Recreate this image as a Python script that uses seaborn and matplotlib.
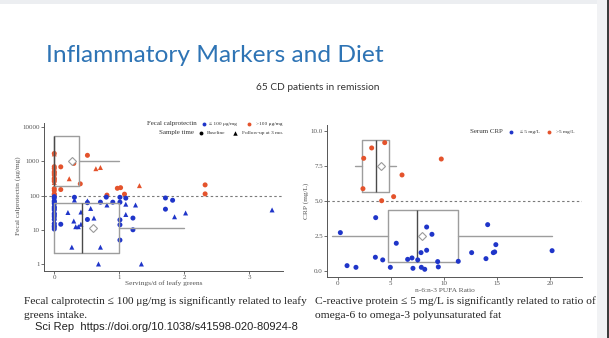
import numpy as np
import pandas as pd
import seaborn as sns
import matplotlib
matplotlib.use("Agg")
import matplotlib.pyplot as plt
import matplotlib.lines as mlines
import matplotlib.patches as mpatches
from matplotlib.font_manager import FontProperties

# ---------------- data ----------------
# Left: fecal calprotectin vs leafy greens servings
fc_servings = [0, 0, 0, 0, 0, 0, 0, 0, 0, 0, 0, 0, 0, 0, 0, 0, 0,
               0.10, 0.30, 0.51, 0.64, 0.71, 0.23, 0.40, 0.10, 0.81, 0.97, 1.02, 1.08, 1.31, 2.32, 2.32,
               0, 0, 0, 0, 0, 0, 0, 0, 0, 0, 0, 0, 0, 0, 0, 0, 0, 0, 0, 0,
               0.31, 0.31, 0.21, 0.10, 0.30, 0.33, 0.37, 0.41, 0.41, 0.27, 0.51, 0.51, 0.51, 0.56, 0.61,
               0.71, 0.68, 0.71, 0.81, 0.80, 0.90,
               1.01, 1.01, 1.01, 1.01, 1.01, 1.10, 1.10, 1.25, 1.10, 1.21, 1.21, 1.34, 1.71, 1.82, 1.71,
               1.85, 2.02, 3.35]
fc_calpro = [1700, 1650, 700, 620, 560, 500, 450, 400, 360, 320, 290, 260, 240, 160, 140, 112, 106,
             690, 870, 1500, 610, 660, 310, 220, 150, 103, 163, 170, 110, 195, 205, 112,
             93, 85, 78, 70, 64, 58, 52, 47, 42, 38, 34, 30, 27, 24, 20, 18, 15, 13, 12, 10.5,
             89, 74, 32, 14.5, 18, 12.3, 12.3, 14.5, 33, 3.1, 62, 70, 20, 42, 22, 3.1, 1.0, 64, 53, 90, 64,
             89, 64, 19.5, 14, 5, 84, 56, 53, 28, 22, 10, 1.0, 85, 73, 40, 24, 31, 38]
B, F = "Baseline", "Follow-up at 3 mo."
fc_time = [B, F, B, B, F, B, B, B, F, B, B, B, F, B, B, B, B,
           B, B, B, F, F, F, B, B, B, B, B, B, F, B, B,
           B, B, F, B, B, B, F, B, B, B, F, B, B, B, B, F, B, B, B, B,
           B, F, F, B, F, F, F, F, F, F, B, F, B, F, F, F, F, B, F, B, B,
           B, B, B, B, B, B, F, F, F, B, B, F, B, B, B, F, F, F]
fc_threshold = 100
fc_ticks = [1, 10, 100, 1000, 10000]
fc_tick_labels = ["1", "10", "100", "1000", "10000"]
# box statistics (servings) for each calprotectin group, as drawn
fc_box_center = [1000, 11]          # >100 group, <=100 group
fc_box_q1 = [0.0, 0.0]
fc_box_med = [0.0, 0.43]
fc_box_q3 = [0.38, 0.99]
fc_box_whislo = [0.0, 0.0]
fc_box_whishi = [0.99, 2.0]
fc_box_mean = [0.28, 0.59]

# Right: CRP vs n-6:n-3 PUFA ratio
crp_ratio = [4.43, 3.20, 2.45, 2.38, 4.14, 5.27, 6.06, 9.76,
             0.25, 3.58, 5.52, 8.38, 8.88, 8.38, 7.85, 3.55, 4.24, 0.88, 1.72, 4.96, 6.59, 7.0,
             7.54, 7.09, 7.88, 8.2, 9.42, 9.48, 11.36, 12.62, 13.97, 14.13, 14.66, 14.79, 14.9, 20.2]
crp_value = [9.17, 8.79, 8.05, 5.88, 5.02, 5.31, 6.86, 8.0,
             2.74, 3.81, 1.98, 3.14, 2.62, 1.48, 1.31, 0.98, 0.79, 0.38, 0.26, 0.26, 0.83, 0.93,
             0.79, 0.19, 0.26, 0.12, 0.67, 0.29, 0.69, 1.31, 0.88, 3.31, 1.31, 1.36, 1.88, 1.45]
crp_threshold = 5.0
crp_box_center = [7.5, 2.5]          # >5 group, <=5 group
crp_box_q1 = [2.26, 4.77]
crp_box_med = [3.61, 7.5]
crp_box_q3 = [4.86, 11.36]
crp_box_whislo = [1.66, -0.5]
crp_box_whishi = [5.46, 20.16]
crp_box_mean = [4.08, 7.97]
crp_ticks = [0.0, 2.5, 5.0, 7.5, 10.0]
crp_xticks = [0, 5, 10, 15, 20]

BLUE = "#1f35c9"
RED = "#e4532c"
GRAY = "#555555"
BOXC = "#9d9d9d"

# ---------------- figure ----------------
W, H = 609, 338
sns.set_theme(style="white")
plt.rcParams["font.family"] = ["Liberation Serif", "DejaVu Serif"]
fig = plt.figure(figsize=(W / 100, H / 100), dpi=100)
fig.patch.set_facecolor("white")
renderer = fig.canvas.get_renderer()


def fx(px):
    return px / W


def fy(py):
    return 1 - py / H


def fit(text, width_px, family, weight="normal"):
    fp = FontProperties(family=family, size=10, weight=weight)
    w, h, d = renderer.get_text_width_height_descent(text, fp, ismath=False)
    return 10 * width_px / w


# slide frame
fig.add_artist(mpatches.Rectangle((0, fy(4)), 1, 4 / H, transform=fig.transFigure,
                                  color="#eceef1", zorder=0, lw=0))
fig.add_artist(mpatches.Rectangle((fx(597), 0), 10 / W, 1, transform=fig.transFigure,
                                  color="#f1f2f4", zorder=0, lw=0))
fig.add_artist(mpatches.Rectangle((fx(606.5), 0), 2.5 / W, 1, transform=fig.transFigure,
                                  color="#3c3c3c", zorder=0, lw=0))

# title / subtitle
SANS = ["Lato", "DejaVu Sans"]
fig.text(fx(45.5), fy(62), "Inflammatory Markers and Diet", family=SANS, color="#2e74b5",
         fontsize=fit("Inflammatory Markers and Diet", 337, SANS), ha="left", va="baseline")
fig.text(fx(256), fy(90.5), "65 CD patients in remission", family=SANS, color="#333333",
         fontsize=fit("65 CD patients in remission", 123, SANS), ha="left", va="baseline")

SERIF = ["Liberation Serif", "DejaVu Serif"]


def style_axes(ax):
    ax.set_facecolor("none")
    for s in ["top", "right"]:
        ax.spines[s].set_visible(False)
    for s in ["left", "bottom"]:
        ax.spines[s].set_color(GRAY)
        ax.spines[s].set_linewidth(0.7)
    ax.tick_params(axis="both", which="major", length=2, width=0.6, color=GRAY,
                   labelsize=5, labelcolor=GRAY, pad=1.2, left=True, bottom=True)
    ax.tick_params(axis="both", which="minor", length=0)
    ax.grid(False)
    ax.set_xlabel("")
    ax.set_ylabel("")


def draw_boxes(bax, positions, widths, q1, med, q3, lo, hi, mean):
    stats = [dict(q1=a, med=b, q3=c, whislo=d, whishi=e, mean=f, fliers=[])
             for a, b, c, d, e, f in zip(q1, med, q3, lo, hi, mean)]
    kw = dict(positions=positions, widths=widths, showmeans=True, showcaps=False,
              showfliers=False, patch_artist=False,
              boxprops=dict(color=BOXC, lw=1.0),
              whiskerprops=dict(color=BOXC, lw=1.0),
              medianprops=dict(color="#4a4a4a", lw=1.0),
              meanprops=dict(marker="D", markerfacecolor="white", markeredgecolor="#9a9a9a",
                             markersize=4.2, markeredgewidth=0.8))
    try:
        bax.bxp(stats, orientation="horizontal", **kw)
    except TypeError:
        bax.bxp(stats, vert=False, **kw)


PT = 13  # marker area

# ---------- left panel ----------
ax1 = fig.add_axes([fx(44), fy(271), (283 - 44) / W, (271 - 123) / H])
df1 = pd.DataFrame({"servings": fc_servings, "calpro": fc_calpro, "time": fc_time})
df1["group"] = np.where(df1["calpro"] <= fc_threshold, "low", "high")
ax1.set_yscale("log")
sns.scatterplot(data=df1, x="servings", y="calpro", hue="group", hue_order=["low", "high"],
                palette=[BLUE, RED], style="time", markers={B: "o", F: "^"},
                style_order=[B, F], s=PT, linewidth=0, legend=False, ax=ax1, zorder=3)
ylim1 = (0.624, 13200)
ax1.set_xlim(-0.158, 3.518)
ax1.set_ylim(*ylim1)
ax1.axhline(fc_threshold, color="#7a7a7a", lw=0.8, ls=(0, (2.2, 2.2)), zorder=2)
ax1.set_yticks(fc_ticks)
ax1.set_yticklabels(fc_tick_labels)
ax1.set_xticks([0, 1, 2, 3])
ax1.yaxis.set_minor_locator(matplotlib.ticker.NullLocator())
style_axes(ax1)
bx = ax1.twinx()
bx.set_ylim(np.log10(ylim1[0]), np.log10(ylim1[1]))
bx.axis("off")
draw_boxes(bx, list(np.log10(fc_box_center)), 1.46, fc_box_q1, fc_box_med, fc_box_q3,
           fc_box_whislo, fc_box_whishi, fc_box_mean)
ax1.set_xlim(-0.158, 3.518)

# ---------- right panel ----------
ax2 = fig.add_axes([fx(327.3), fy(276.7), (581.7 - 327.3) / W, (276.7 - 125) / H])
df2 = pd.DataFrame({"ratio": crp_ratio, "crp": crp_value})
df2["group"] = np.where(df2["crp"] <= crp_threshold, "low", "high")
draw_boxes(ax2, crp_box_center, 3.74, crp_box_q1, crp_box_med, crp_box_q3,
           crp_box_whislo, crp_box_whishi, crp_box_mean)
sns.scatterplot(data=df2, x="ratio", y="crp", hue="group", hue_order=["low", "high"],
                palette=[BLUE, RED], marker="o", s=PT, linewidth=0, legend=False, ax=ax2, zorder=3)
ax2.axhline(crp_threshold, color="#7a7a7a", lw=0.8, ls=(0, (2.2, 2.2)), zorder=2)
ax2.set_xlim(-0.98, 22.99)
ax2.set_ylim(-0.41, 10.43)
ax2.set_yticks(crp_ticks)
ax2.set_yticklabels([f"{v:.1f}" for v in crp_ticks])
ax2.set_xticks(crp_xticks)
style_axes(ax2)

# ---------- axis labels ----------
lab_size = fit("Fecal calprotectin (μg/mg)", 78, SERIF)
fig.text(fx(18), fy(196), "Fecal calprotectin (μg/mg)", rotation=90, family=SERIF,
         fontsize=lab_size, color=GRAY, ha="center", va="center")
fig.text(fx(164), fy(283.3), "Servings/d of leafy greens", family=SERIF,
         fontsize=lab_size, color=GRAY, ha="center", va="center")
fig.text(fx(305.7), fy(201), "CRP (mg/L)", rotation=90, family=SERIF,
         fontsize=lab_size, color=GRAY, ha="center", va="center")
fig.text(fx(444.6), fy(290), "n-6:n-3 PUFA Ratio", family=SERIF,
         fontsize=lab_size, color=GRAY, ha="center", va="center")

# ---------- legends ----------
leg_title = fit("Fecal calprotectin", 49.7, SERIF)
leg_lab = fit("Follow-up at 3 mo.", 41.6, SERIF)


def leg_text(x, y, s, size, ha="left"):
    fig.text(fx(x), fy(y), s, family=SERIF, fontsize=size, color="#333333", ha=ha, va="center")


def leg_mark(x, y, color, marker, ms=2.8):
    fig.add_artist(mlines.Line2D([fx(x)], [fy(y)], transform=fig.transFigure, marker=marker,
                                 color=color, ms=ms, ls="", mew=0))


leg_text(196.7, 123.7, "Fecal calprotectin", leg_title, ha="right")
leg_mark(204, 123.7, BLUE, "o")
leg_text(209, 123.7, "≤ 100 μg/mg", leg_lab)
leg_mark(249, 123.7, RED, "o")
leg_text(256, 123.7, ">100 μg/mg", leg_lab)
leg_text(193.5, 132.7, "Sample time", leg_title, ha="right")
leg_mark(201.3, 132.7, "black", "o")
leg_text(207, 132.7, "Baseline", leg_lab)
leg_mark(234.7, 132.7, "black", "^", ms=3.2)
leg_text(241.7, 132.7, "Follow-up at 3 mo.", leg_lab)

leg_text(503, 131.7, "Serum CRP", leg_title, ha="right")
leg_mark(511, 131.7, BLUE, "o")
leg_text(520, 131.7, "≤ 5 mg/L", leg_lab)
leg_mark(549, 131.7, RED, "o")
leg_text(556, 131.7, ">5 mg/L", leg_lab)

# ---------- captions ----------
cap_l1 = "Fecal calprotectin ≤ 100 μg/mg is significantly related to leafy"
cap_r1 = "C-reactive protein ≤ 5 mg/L is significantly related to ratio of"
cl = fit(cap_l1, 285, SERIF)
cr = fit(cap_r1, 281, SERIF)
fig.text(fx(24), fy(304.5), cap_l1, family=SERIF, fontsize=cl, color="#222222", va="baseline")
fig.text(fx(24), fy(318), "greens intake.", family=SERIF, fontsize=cl, color="#222222",
         va="baseline")
fig.text(fx(315), fy(304.5), cap_r1, family=SERIF, fontsize=cr, color="#222222", va="baseline")
fig.text(fx(315), fy(318), "omega-6 to omega-3 polyunsaturated fat", family=SERIF,
         fontsize=cr, color="#222222", va="baseline")
ref = "Sci Rep  https://doi.org/10.1038/s41598-020-80924-8"
SANS2 = ["Liberation Sans", "DejaVu Sans"]
fig.text(fx(35), fy(330.5), ref, family=SANS2, fontsize=fit(ref, 263, SANS2), color="#222222",
         va="baseline")

fig.savefig("out.png", dpi=100, facecolor=fig.get_facecolor())
